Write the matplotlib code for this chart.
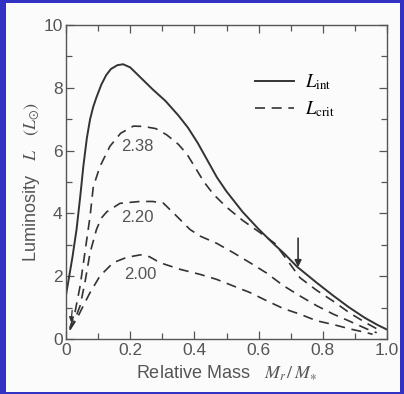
import numpy as np
import matplotlib.pyplot as plt
from matplotlib.ticker import MultipleLocator

plt.rcParams['font.family'] = ['Liberation Sans', 'DejaVu Sans']
plt.rcParams['mathtext.fontset'] = 'stix'

# L_int (solid)
x_int = [0.0, 0.01, 0.02, 0.033, 0.045, 0.054, 0.065, 0.075, 0.085, 0.095, 0.11, 0.125,
         0.14, 0.16, 0.178, 0.20, 0.24, 0.27, 0.31, 0.35, 0.38, 0.41, 0.44, 0.47,
         0.50, 0.55, 0.60, 0.65, 0.68, 0.72, 0.78, 0.83, 0.88, 0.93, 0.97, 1.0]
y_int = [1.4, 2.0, 2.6, 3.5, 4.6, 5.5, 6.4, 7.0, 7.4, 7.7, 8.1, 8.4,
         8.6, 8.72, 8.75, 8.65, 8.25, 7.95, 7.58, 7.12, 6.73, 6.25, 5.7, 5.15,
         4.7, 4.05, 3.5, 3.0, 2.72, 2.3, 1.8, 1.4, 1.02, 0.68, 0.45, 0.3]

# L_crit (dashed), labelled by value
x_238 = [0.012, 0.028, 0.044, 0.059, 0.075, 0.085, 0.106, 0.137, 0.17, 0.21, 0.241,
         0.28, 0.314, 0.35, 0.376, 0.40, 0.43, 0.46, 0.50, 0.55, 0.60, 0.65,
         0.69, 0.729, 0.781, 0.833, 0.885, 0.937, 0.978]
y_238 = [0.35, 0.85, 1.69, 2.76, 3.91, 4.85, 5.5, 6.14, 6.55, 6.78, 6.77,
         6.7, 6.5, 6.2, 5.9, 5.5, 5.0, 4.6, 4.2, 3.78, 3.42, 3.05,
         2.5, 1.95, 1.55, 1.2, 0.82, 0.5, 0.27]

x_220 = [0.012, 0.028, 0.044, 0.059, 0.075, 0.095, 0.11, 0.127, 0.168, 0.23, 0.27,
         0.303, 0.345, 0.386, 0.417, 0.469, 0.521, 0.573, 0.625, 0.677, 0.729,
         0.781, 0.833, 0.885, 0.937, 0.968]
y_220 = [0.3, 0.63, 1.06, 1.8, 2.75, 3.49, 3.85, 4.05, 4.32, 4.38, 4.38,
         4.33, 3.91, 3.49, 3.28, 3.05, 2.75, 2.43, 2.1, 1.7, 1.37,
         1.06, 0.79, 0.56, 0.32, 0.2]

x_200 = [0.012, 0.033, 0.054, 0.075, 0.106, 0.147, 0.189, 0.232, 0.26, 0.293, 0.355,
         0.417, 0.469, 0.521, 0.573, 0.625, 0.677, 0.729, 0.781, 0.833, 0.885,
         0.937, 0.955]
y_200 = [0.3, 0.63, 1.06, 1.48, 2.01, 2.43, 2.6, 2.68, 2.62, 2.43, 2.22,
         2.06, 1.9, 1.69, 1.48, 1.22, 0.97, 0.79, 0.58, 0.46, 0.32,
         0.2, 0.15]

crit_labels = ['2.38', '2.20', '2.00']
crit_label_pos = [(0.222, 6.12), (0.222, 3.87), (0.232, 2.06)]

fig = plt.figure(figsize=(4.04, 3.94), dpi=100)
fig.patch.set_facecolor('#3232c4')

# white page inside the blue frame
bg = fig.add_axes([6 / 404, 2 / 394, (404 - 10) / 404, (394 - 5) / 394], zorder=-1)
bg.set_facecolor('#fbfbfb')
bg.set_xticks([])
bg.set_yticks([])
for s in bg.spines.values():
    s.set_visible(False)

ax = fig.add_axes([66 / 404, (394 - 339) / 394, (387 - 66) / 404, (339 - 25) / 394])
ax.set_facecolor('none')

dark = '#333333'
grey = '#555555'
dash = (6, 4)

ax.plot(x_int, y_int, '-', color=dark, lw=1.4, label=r'$L_{\rm int}$')
ax.plot(x_238, y_238, '--', color=dark, lw=1.2, dashes=dash, label=r'$L_{\rm crit}$')
ax.plot(x_220, y_220, '--', color=dark, lw=1.2, dashes=dash)
ax.plot(x_200, y_200, '--', color=dark, lw=1.2, dashes=dash)

for lab, (tx, ty) in zip(crit_labels, crit_label_pos):
    ax.text(tx, ty, lab, fontsize=12, color=grey, ha='center', va='center')

# arrow marking the matching point
ax.annotate('', xy=(0.723, 2.2), xytext=(0.723, 3.3),
            arrowprops=dict(arrowstyle='-|>', color=dark, lw=1.2, mutation_scale=10))
ax.annotate('', xy=(0.015, 0.45), xytext=(0.02, 1.0),
            arrowprops=dict(arrowstyle='-|>', color=dark, lw=0.9, mutation_scale=7))

ax.set_xlim(0, 1.0)
ax.set_ylim(0, 10)
ax.set_xticks([0, 0.2, 0.4, 0.6, 0.8, 1.0])
ax.set_xticklabels(['0', '0.2', '0.4', '0.6', '0.8', '1.0'])
ax.set_yticks([0, 2, 4, 6, 8, 10])
ax.xaxis.set_minor_locator(MultipleLocator(0.1))
ax.yaxis.set_minor_locator(MultipleLocator(1))
ax.tick_params(which='both', direction='in', top=True, right=True,
               colors=grey, labelcolor=grey, labelsize=12.5)
ax.tick_params(which='major', length=6, width=0.9)
ax.tick_params(which='minor', length=4, width=0.9)
ax.tick_params(axis='x', pad=3)
ax.tick_params(axis='y', pad=2.5)
for s in ax.spines.values():
    s.set_color(grey)
    s.set_linewidth(1.0)

ax.set_xlabel(r'Relative Mass   $M_r\,/\,M_{\ast}$', fontsize=13, color=grey, labelpad=4)
ax.set_ylabel(r'Luminosity   $L$   $(L_{\odot})$', fontsize=13, color=grey, labelpad=1)

leg = ax.legend(loc='upper left', bbox_to_anchor=(0.589, 0.85), frameon=False,
                fontsize=13.5, handlelength=2.1, handletextpad=0.55, labelspacing=0.4,
                borderpad=0, borderaxespad=0)

fig.savefig('out.png', dpi=100, facecolor=fig.get_facecolor())
